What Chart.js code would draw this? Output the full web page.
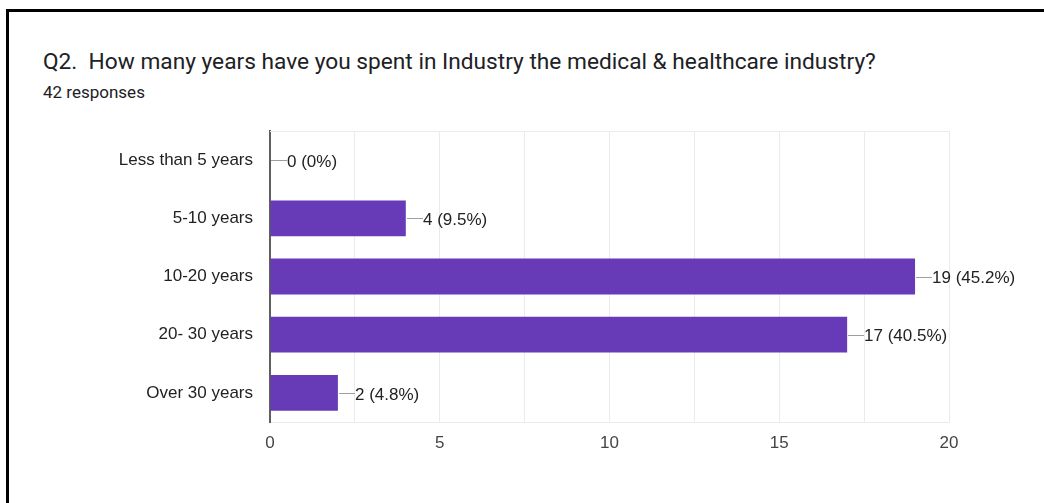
<!DOCTYPE html>
<html>
<head>
<meta charset="utf-8">
<script src="https://cdn.jsdelivr.net/npm/chart.js@4"></script>
<style>
  html, body { margin: 0; padding: 0; background: #fff; }
  #wrap { position: relative; width: 1044px; height: 503px; overflow: hidden; }
  #frame { position: absolute; left: 6px; top: 9px; width: 1100px; height: 600px;
           border-left: 3px solid #000; border-top: 3px solid #000; }
  #title { position: absolute; left: 43px; top: 48px; font: 22.7px Roboto, sans-serif; color: #202124;
           white-space: pre; line-height: 28px; }
  #sub { position: absolute; left: 43px; top: 82px; font: 17px Roboto, sans-serif; color: #202124;
         line-height: 20px; }
  #chartBox { position: absolute; left: 0; top: 0; width: 1044px; height: 503px; }
</style>
</head>
<body>
<div id="wrap">
  <div id="frame"></div>
  <div id="title">Q2.  How many years have you spent in Industry the medical &amp; healthcare industry?</div>
  <div id="sub">42 responses</div>
  <div id="chartBox"><canvas id="chart"></canvas></div>
</div>
<script>
// answer buckets and counts
const CATEGORIES = ["Less than 5 years", "5-10 years", "10-20 years", "20- 30 years", "Over 30 years"];
const COUNTS = [0, 4, 19, 17, 2];
const TOTAL = 42;
const X_TICKS = [0, 5, 10, 15, 20];

const LABEL_FONT = { family: "'Liberation Sans', Arial, sans-serif", size: 17 };

// top edge of the plot box, plus "—n (p%)" callouts at bar ends
const callouts = {
  id: "callouts",
  beforeDatasetsDraw(c) {
    const { ctx, chartArea } = c;
    ctx.save();
    ctx.strokeStyle = "#ebebeb";
    ctx.lineWidth = 1;
    ctx.beginPath();
    ctx.moveTo(chartArea.left, chartArea.top + 0.5);
    ctx.lineTo(chartArea.right, chartArea.top + 0.5);
    ctx.stroke();
    ctx.restore();
  },
  afterDatasetsDraw(c) {
    const { ctx } = c;
    const meta = c.getDatasetMeta(0);
    ctx.save();
    ctx.font = `${LABEL_FONT.size}px ${LABEL_FONT.family}`;
    ctx.textBaseline = "middle";
    ctx.textAlign = "left";
    meta.data.forEach((bar, i) => {
      const v = COUNTS[i];
      const pct = v === 0 ? "0%" : (v / TOTAL * 100).toFixed(1) + "%";
      const x0 = Math.round(bar.x) + 1;
      ctx.strokeStyle = "#9e9e9e";
      ctx.lineWidth = 1;
      ctx.beginPath();
      ctx.moveTo(x0, Math.round(bar.y) + 0.5);
      ctx.lineTo(x0 + 16, Math.round(bar.y) + 0.5);
      ctx.stroke();
      ctx.fillStyle = "#222";
      ctx.fillText(`${v} (${pct})`, x0 + 16, bar.y + 2);
    });
    ctx.restore();
  }
};

new Chart(document.getElementById("chart"), {
  type: "bar",
  data: {
    labels: CATEGORIES,
    datasets: [{
      data: COUNTS,
      backgroundColor: "#673ab7",
      borderWidth: 0,
      categoryPercentage: 1,
      barPercentage: 0.615
    }]
  },
  options: {
    indexAxis: "y",
    responsive: true,
    maintainAspectRatio: false,
    animation: false,
    layout: { padding: { top: 131, right: 95, bottom: 0, left: 0 } },
    plugins: { legend: { display: false }, tooltip: { enabled: false } },
    scales: {
      x: {
        min: 0,
        max: 20,
        ticks: {
          stepSize: 2.5,
          autoSkip: false,
          maxRotation: 0,
          color: "#444",
          font: LABEL_FONT,
          padding: 11,
          callback: (v) => X_TICKS.includes(v) ? String(v) : ""
        },
        grid: { color: "#ebebeb", lineWidth: 1, drawTicks: false },
        border: { color: "#ebebeb", width: 1 },
        afterFit: (s) => { s.height = 81; }
      },
      y: {
        ticks: { color: "#222", font: LABEL_FONT, padding: 17 },
        grid: { display: false, drawTicks: false },
        border: { color: "#5f5f5f", width: 2 },
        afterFit: (s) => { s.width = 270; }
      }
    }
  },
  plugins: [callouts]
});
</script>
</body>
</html>
